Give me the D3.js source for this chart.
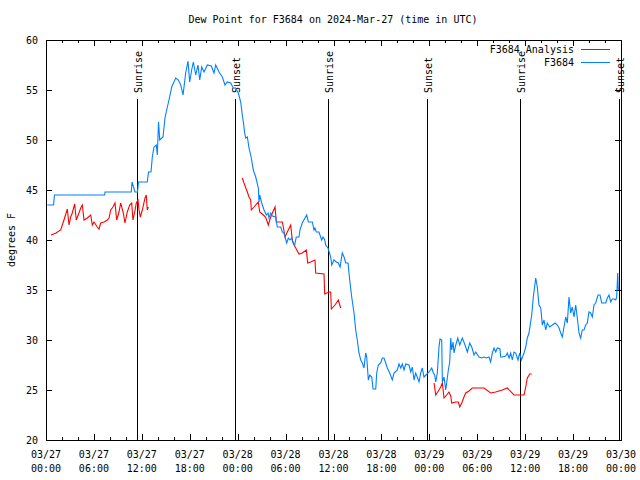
<!DOCTYPE html>
<html>
<head>
<meta charset="utf-8">
<script src="https://cdn.jsdelivr.net/npm/d3@7"></script>
<style>
  html, body { margin: 0; padding: 0; background: #fff; }
  svg { display: block; }
  text { font-family: "DejaVu Sans Mono", monospace; font-size: 10px; fill: #000; }
</style>
</head>
<body>
<svg id="chart" width="640" height="480"></svg>
<script>
// ---- Data (hours since 2024-03-27 00:00 UTC, dew point in °F) ----
const titleText = "Dew Point for F3684 on 2024-Mar-27 (time in UTC)";
const yLabel = "degrees F";
const seriesNames = ["F3684 Analysis", "F3684"];

const stationHours = [0.16,0.94,1.06,7.35,7.39,10.68,10.77,10.96,11.14,11.46,11.58,12.68,12.84,13.15,13.31,13.52,13.81,13.94,14.09,14.24,14.65,14.9,15.11,15.4,15.74,16.24,16.57,16.87,17.16,17.49,17.78,17.99,18.24,18.45,18.75,19.03,19.25,19.5,19.79,20.2,20.7,21.04,21.25,21.66,22.08,22.41,22.7,23.13,23.45,23.75,24.08,24.38,24.58,24.71,24.88,25.01,25.21,25.42,25.71,25.96,26.26,26.59,26.67,26.76,27.01,27.3,27.59,27.8,27.92,28.14,28.34,28.76,28.96,29.39,29.59,29.8,30.14,30.34,30.55,30.77,30.93,31.14,31.34,31.68,31.8,32.09,32.43,32.64,32.85,33.35,33.56,33.68,33.85,34.18,34.52,34.69,34.9,35.02,35.31,35.65,35.78,36.06,36.35,36.6,36.82,37.1,37.32,37.53,37.82,38.03,38.28,38.57,38.78,38.98,39.19,39.41,39.61,39.82,40.03,40.16,40.36,40.54,40.79,40.95,41.29,41.41,41.61,41.91,42.11,42.32,42.54,42.74,43.04,43.36,43.58,43.99,44.2,44.42,44.62,44.83,45.04,45.45,45.67,45.87,46.08,46.29,46.49,46.71,46.92,47.12,47.33,47.58,47.96,48.3,48.5,48.67,48.8,49.0,49.21,49.34,49.55,49.63,49.84,50.05,50.17,50.38,50.55,50.68,50.8,50.97,51.09,51.31,51.56,51.81,52.13,52.47,52.76,53.06,53.31,53.6,53.81,54.22,54.56,54.85,55.13,55.47,55.68,55.89,56.1,56.31,56.51,56.85,56.93,57.14,57.56,57.77,57.98,58.19,58.39,58.6,58.81,59.1,59.32,59.52,59.86,60.07,60.27,60.48,60.82,61.02,61.32,61.52,61.73,61.95,62.15,62.36,62.57,62.77,63.07,63.4,63.74,64.03,64.24,64.45,64.65,64.86,65.08,65.28,65.49,65.7,65.9,66.12,66.33,66.53,66.74,66.95,67.15,67.37,67.58,67.78,67.99,68.2,68.41,68.62,68.83,69.12,69.37,69.58,70.09,70.29,70.5,70.71,70.91,71.12,71.34,71.46,71.59,71.66];
const stationValues = [43.5,43.5,44.5,44.5,44.8,44.8,45.8,45.3,44.8,44.8,45.8,45.8,46.8,46.8,48.3,49.3,49.5,48.5,51.8,50,50.3,52.2,53,54,55.3,56.2,56,55.5,54.5,56.7,57.9,55.8,57,57.8,56.5,57.5,56,57.3,56.8,57.5,57.4,56.7,57.5,56.8,56.3,55.5,55.8,55.7,55.2,55.2,54.7,53.8,52.5,51.8,50.7,50.2,50.3,49.2,48.2,47,46.3,45.2,43.8,44.5,43.7,43,42.5,42.7,42.2,42.7,42.4,42.3,41.3,41.3,40.8,40.7,39.7,40.2,40.0,40.2,39.7,39.5,40.3,40.3,41,41.7,42.2,42.5,41.8,41.8,41,41.2,40.8,40.8,40,40.3,40,39.5,39.2,38.3,37.5,38,37.8,37.7,37.3,38.7,38.3,37.7,37.7,36,34.3,32.7,31,30,28.7,28,27.7,27.2,28.7,28.3,26,26.5,26.3,25.1,25.1,26.7,27.5,27.7,28.2,28.2,27.7,27.2,26.7,26,26.7,27,27.6,27.2,27.6,27,27.6,27.5,26.8,27.3,26,26.7,26.3,25.8,26.7,27.2,26.3,26.5,26.8,27.2,26.7,26.5,25.8,26.7,29.3,30.1,30.0,25.8,26.3,25,25.7,27,27.8,30.2,29,29.8,28.7,29.5,30.2,29.5,30.2,29.5,28.8,29.7,29.3,28.5,28.8,28.3,28.2,28.3,28.2,28.3,27.8,28.7,29.2,28.8,29.2,29.1,28.3,28.3,28.4,28.7,28.2,28.7,28,28.8,28.7,28,28.7,28,28.7,29.3,30.2,30.7,32.5,34.3,36.2,35.3,33.5,33.2,31.5,32,31,31.7,31.3,31.5,31.7,31.5,31.2,30.7,30.3,31.3,32.3,31.7,34.3,32.7,33.3,32.3,33.5,32.2,30.7,30.2,31,31,31.5,31.7,32.8,32.7,32.3,33.5,33.7,34.5,34.5,33.7,33.7,34.2,34.5,33.8,34.1,34.1,34.0,34.3,36.7,35];

// null values separate the analysis segments
const analysisHours = [0.63,1.25,1.84,2.25,2.67,2.88,3.09,3.29,3.59,3.79,4.13,4.35,4.55,4.76,5.17,5.6,5.8,6.01,6.42,6.64,6.85,7.26,7.68,7.89,8.1,8.39,8.64,8.85,9.14,9.35,9.68,9.89,10.18,10.48,10.73,10.89,11.11,11.31,11.52,11.65,11.81,12.06,12.4,12.56,12.68,12.81,
  18.0,
  24.58,24.79,25.21,25.42,25.63,25.71,26.05,26.58,26.76,27.08,27.5,27.84,28.01,28.34,28.68,28.84,29.59,29.72,29.93,30.22,30.64,30.84,31.06,31.27,31.68,32.09,32.6,32.77,33.15,33.68,33.77,34.81,34.9,35.44,35.65,35.73,36.19,36.6,36.9,
  42.0,
  48.59,48.8,49.21,49.42,49.63,49.84,50.17,50.46,50.68,50.8,51.31,51.63,51.81,52.06,52.34,52.55,52.97,53.38,54.85,55.68,56.31,57.14,57.77,58.6,59.86,60.07,60.27,60.57,60.82];
const analysisValues = [40.5,40.7,41,42,43.1,41.5,42.3,42.7,43.6,42,42.7,43.2,43.5,42,42.2,42.5,41.5,41.8,41.3,41.1,41.7,41.8,42,42.2,43,43.3,43.7,42,42.8,43.7,42.7,41.7,42.8,43.5,43.7,42,42.8,43.7,44,43.0,42.3,43,44.2,44.5,43,43.3,
  null,
  46.2,45.7,44.8,44.3,44.0,43,43.3,43.8,42.8,42.6,42.3,41.5,42,42.7,43.3,41.8,41.8,41.3,40.3,40.8,41.5,40,39.5,39.2,38.6,38.7,39,37.7,37.8,38,36.7,36.6,34.6,34.8,34.8,33.1,33.5,34,33.2,
  null,
  25.7,24.5,25,25.3,25.7,24.2,24.5,24.8,24.4,23.7,23.8,23.8,23.3,23.7,24.3,24.7,24.9,25.2,25.2,24.7,24.8,25,25.2,24.5,24.5,25.3,26.2,26.6,26.6];

const sunHours = [11.39, 23.67, 35.31, 47.71, 59.35, 71.8];
const sunLabels = ["Sunrise", "Sunset", "Sunrise", "Sunset", "Sunrise", "Sunset"];

const yTicks = [20, 25, 30, 35, 40, 45, 50, 55, 60];

// ---- Layout ----
const pLeft = 46, pRight = 621, pTop = 40, pBottom = 440;
const t0 = Date.UTC(2024, 2, 27, 0, 0);
const toDate = h => new Date(t0 + h * 3600e3);

const svg = d3.select("#chart");
const x = d3.scaleUtc().domain([toDate(0), toDate(72)]).range([pLeft, pRight]);
const y = d3.scaleLinear().domain([20, 60]).range([pBottom, pTop]);

const majorX = d3.utcHour.every(6).range(toDate(0), toDate(72.01));
const minorX = d3.utcHour.every(2).range(toDate(0), toDate(72.01));
const fmtDate = d3.utcFormat("%m/%d"), fmtTime = d3.utcFormat("%H:%M");

// Title
svg.append("text").attr("x", 333).attr("y", 23).attr("text-anchor", "middle").text(titleText);

// Y label
svg.append("text").attr("transform", "translate(15,240) rotate(-90)")
  .attr("text-anchor", "middle").text(yLabel);

const g = svg.append("g");

// ticks (drawn inward on all four sides)
const tk = g.append("g").attr("stroke", "#000").attr("stroke-width", 1).attr("shape-rendering", "crispEdges");
minorX.forEach(d => {
  const isMajor = d.getUTCHours() % 6 === 0;
  const len = isMajor ? 6 : 3;
  const xx = Math.round(x(d)) + 0.5;
  tk.append("line").attr("x1", xx).attr("x2", xx).attr("y1", pBottom).attr("y2", pBottom - len);
  tk.append("line").attr("x1", xx).attr("x2", xx).attr("y1", pTop).attr("y2", pTop + len);
});
yTicks.forEach(v => {
  const yy = Math.round(y(v)) + 0.5;
  tk.append("line").attr("x1", pLeft).attr("x2", pLeft + 6).attr("y1", yy).attr("y2", yy);
  tk.append("line").attr("x1", pRight).attr("x2", pRight - 6).attr("y1", yy).attr("y2", yy);
});

// Y tick labels
g.selectAll(".ylab").data(yTicks).enter().append("text")
  .attr("x", 38).attr("y", d => y(d) + 4).attr("text-anchor", "end").text(d => d);

// X tick labels
majorX.forEach(d => {
  const t = g.append("text").attr("x", x(d)).attr("text-anchor", "middle");
  t.append("tspan").attr("x", x(d)).attr("y", 458).text(fmtDate(d));
  t.append("tspan").attr("x", x(d)).attr("y", 472).text(fmtTime(d));
});

// Sunrise / sunset lines
sunHours.forEach((h, i) => {
  const xx = Math.round(x(toDate(h))) + 0.5;
  g.append("line").attr("x1", xx).attr("x2", xx).attr("y1", 99).attr("y2", pBottom)
    .attr("stroke", "#000").attr("stroke-width", 1).attr("shape-rendering", "crispEdges");
  g.append("text").attr("transform", `translate(${xx + 4},93) rotate(-90)`)
    .attr("text-anchor", "start").text(sunLabels[i]);
});

// Lines
const analysisData = analysisHours.map((h, i) => ({ t: toDate(h), v: analysisValues[i] }));
const stationData = stationHours.map((h, i) => ({ t: toDate(h), v: stationValues[i] }));
const line = d3.line().defined(d => d.v !== null).x(d => x(d.t)).y(d => y(d.v));

g.append("path").datum(analysisData).attr("d", line)
  .attr("fill", "none").attr("stroke", "#ff0000").attr("stroke-width", 1.1);
g.append("path").datum(stationData).attr("d", line)
  .attr("fill", "none").attr("stroke", "#0080ff").attr("stroke-width", 1.1);

// Frame
g.append("rect").attr("x", pLeft + 0.5).attr("y", pTop + 0.5)
  .attr("width", pRight - pLeft).attr("height", pBottom - pTop)
  .attr("fill", "none").attr("stroke", "#000").attr("shape-rendering", "crispEdges");

// Legend
const legendColors = ["#ff0000", "#0080ff"];
seriesNames.forEach((name, i) => {
  const ly = 49 + i * 13;
  g.append("text").attr("x", 574).attr("y", ly + 4).attr("text-anchor", "end").text(name);
  g.append("line").attr("x1", 581).attr("x2", 610).attr("y1", ly + 0.5).attr("y2", ly + 0.5)
    .attr("stroke", legendColors[i]).attr("stroke-width", 1).attr("shape-rendering", "crispEdges");
});
</script>
</body>
</html>
